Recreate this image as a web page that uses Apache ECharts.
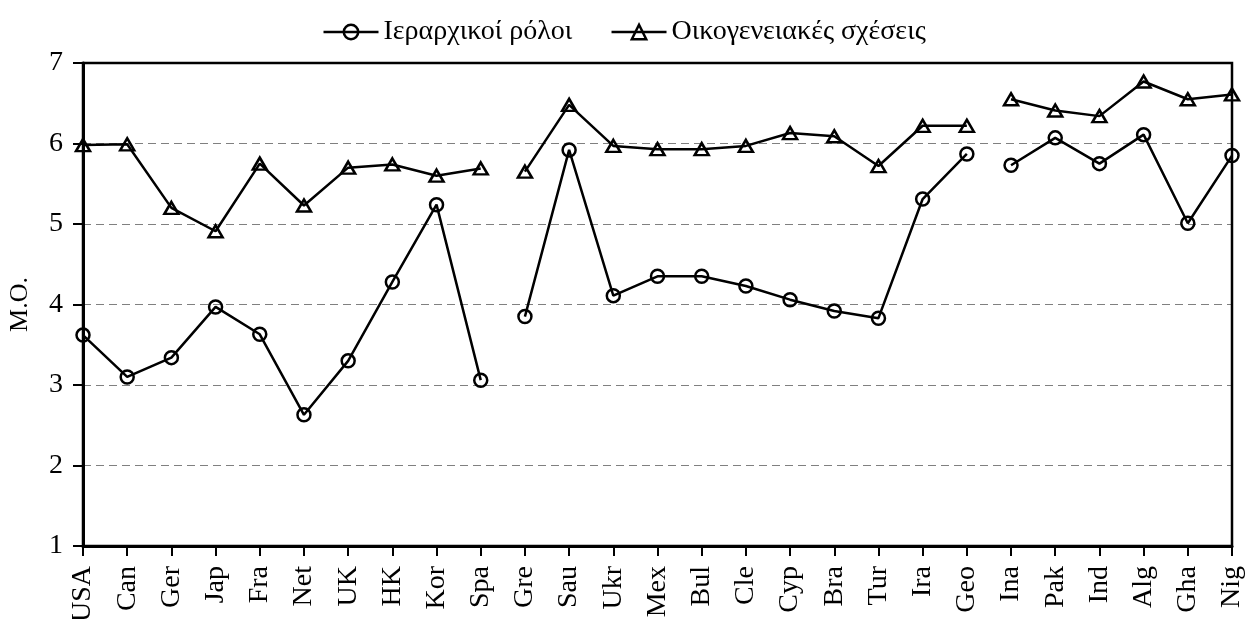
<!DOCTYPE html>
<html>
<head>
<meta charset="utf-8">
<script src="https://cdn.jsdelivr.net/npm/echarts@6/dist/echarts.min.js"></script>
<style>html,body{margin:0;padding:0;background:#fff}#c{width:1248px;height:619px}</style>
</head>
<body>
<div id="c"></div>
<script>
const categories = ['USA','Can','Ger','Jap','Fra','Net','UK','HK','Kor','Spa','Gre','Sau','Ukr','Mex','Bul','Cle','Cyp','Bra','Tur','Ira','Geo','Ina','Pak','Ind','Alg','Gha','Nig'];
const hierarchicalRoles = [3.62,3.10,3.34,3.97,3.63,2.63,3.30,4.28,5.24,3.06,3.85,5.92,4.11,4.35,4.35,4.23,4.06,3.92,3.83,5.31,5.87,5.73,6.07,5.75,6.11,5.01,5.85];
const familyRelations = [5.98,5.99,5.20,4.91,5.75,5.23,5.70,5.74,5.60,5.69,5.65,6.48,5.97,5.93,5.93,5.97,6.13,6.09,5.72,6.22,6.22,6.55,6.41,6.34,6.77,6.55,6.61];
const segments = [[0,9],[10,20],[21,26]];
const seriesNames = ['Ιεραρχικοί ρόλοι','Οικογενειακές σχέσεις'];
const yTicks = [1,2,3,4,5,6,7];

const FONT = 'Liberation Serif';
function segData(arr, s, e){ return arr.map((v,i)=> (i>=s && i<=e) ? v : null); }
function makeSeries(name, arr, symbol, size){
  return segments.map(([s,e]) => ({
    type:'line', name, data: segData(arr,s,e),
    symbol, symbolSize: size, showAllSymbol:true, connectNulls:false,
    lineStyle:{color:'#000', width:2.5},
    itemStyle:{color:'rgba(255,255,255,0)', borderColor:'#000', borderWidth:2.5},
    emphasis:{disabled:true}
  }));
}
const chart = echarts.init(document.getElementById('c'), null, {renderer:'canvas'});
chart.setOption({
  animation:false,
  backgroundColor:'#fff',
  textStyle:{fontFamily:FONT, color:'#000'},
  legend:{
    data: seriesNames, top: 13, left:'center',
    itemWidth: 55, itemHeight: 18, itemGap: 38,
    lineStyle:{color:'#000', width:2.5},
    itemStyle:{color:'rgba(255,255,255,0)', borderColor:'#000', borderWidth:2.5},
    textStyle:{fontFamily:FONT, fontSize:28, color:'#000'}
  },
  grid:{left:83, right:16, top:63, bottom:73, show:true, borderColor:'#000', borderWidth:2.5, z:3,
        outerBoundsMode:'none', containLabel:false},
  xAxis:{
    type:'category', data: categories, boundaryGap:false,
    axisLine:{lineStyle:{color:'#000', width:3}},
    axisTick:{show:true, length:10, lineStyle:{color:'#000', width:2}, alignWithLabel:true},
    axisLabel:{rotate:90, fontFamily:FONT, fontSize:28, color:'#000', margin:20, interval:0},
    splitLine:{show:false}
  },
  yAxis:{
    type:'value', min: yTicks[0], max: yTicks[yTicks.length-1], interval:1,
    name:'M.O.', nameLocation:'middle', nameGap:50, nameRotate:90,
    nameTextStyle:{fontFamily:FONT, fontSize:26, color:'#000'},
    axisLine:{show:true, lineStyle:{color:'#000', width:3}},
    axisTick:{show:true, length:10, lineStyle:{color:'#000', width:2}},
    axisLabel:{fontFamily:FONT, fontSize:28, color:'#000', margin:20},
    splitLine:{show:true, showMinLine:false, showMaxLine:false, lineStyle:{color:'#808080', width:1, type:[8,5]}}
  },
  series: [...makeSeries(seriesNames[0], hierarchicalRoles, 'circle', 13),
           ...makeSeries(seriesNames[1], familyRelations, 'triangle', [14,12])]
});
</script>
</body>
</html>
